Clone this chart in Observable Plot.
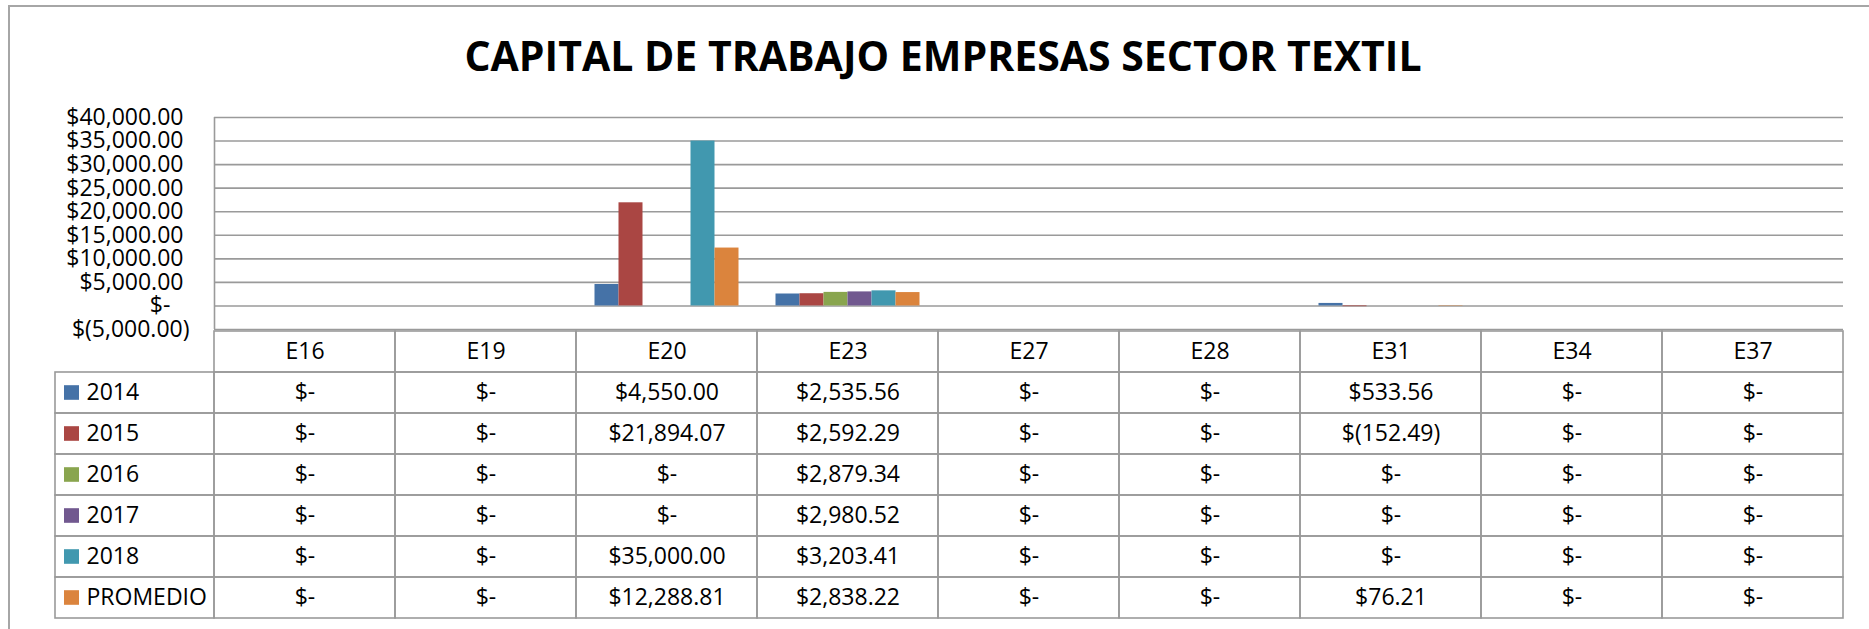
<!DOCTYPE html>
<html>
<head>
<meta charset="utf-8">
<script src="https://cdn.jsdelivr.net/npm/d3@7"></script>
<script src="https://cdn.jsdelivr.net/npm/@observablehq/plot@0.6"></script>
<style>
  html, body { margin: 0; padding: 0; background: #fff; overflow: hidden; }
  #wrap { position: relative; width: 1869px; height: 629px; }
  #frame { position: absolute; left: 8px; top: 5px; width: 1880px; height: 640px; border-left: 2px solid #a6a6a6; border-top: 2px solid #a6a6a6; }
  #title { position: absolute; left: 17px; top: 35px; width: 1852px; text-align: center;
           font-family: "Open Sans", sans-serif; font-weight: 700; font-size: 41px; line-height: 41px; color: #000; z-index: 5; }
  .layer { position: absolute; left: 0; top: 0; }
</style>
</head>
<body>
<div id="wrap">
  <div id="frame"></div>
  <div id="title">CAPITAL DE TRABAJO EMPRESAS SECTOR TEXTIL</div>
  <div id="bars" class="layer"></div>
  <div id="table" class="layer"></div>
</div>
<script>
// ---- data ----
const categories = ["E16", "E19", "E20", "E23", "E27", "E28", "E31", "E34", "E37"];
const seriesNames = ["2014", "2015", "2016", "2017", "2018", "PROMEDIO"];
const v2014 = [0, 0, 4550.00, 2535.56, 0, 0, 533.56, 0, 0];
const v2015 = [0, 0, 21894.07, 2592.29, 0, 0, -152.49, 0, 0];
const v2016 = [0, 0, 0, 2879.34, 0, 0, 0, 0, 0];
const v2017 = [0, 0, 0, 2980.52, 0, 0, 0, 0, 0];
const v2018 = [0, 0, 35000.00, 3203.41, 0, 0, 0, 0, 0];
const vPromedio = [0, 0, 12288.81, 2838.22, 0, 0, 76.21, 0, 0];
const yTicks = [-5000, 0, 5000, 10000, 15000, 20000, 25000, 30000, 35000, 40000];
const colors = ["#4572A7", "#AA4643", "#89A54E", "#71588F", "#4198AF", "#DB843D"];

const seriesValues = [v2014, v2015, v2016, v2017, v2018, vPromedio];
const rows = [];
seriesNames.forEach((s, si) => {
  categories.forEach((c, ci) => {
    rows.push({series: s, si, category: c, ci, value: seriesValues[si][ci]});
  });
});

// accounting-style formats
const num = d3.format(",.2f");
const FIG = "\u2007", PUN = "\u2008";
const fmtCell = v => v === 0 ? "$-" : v < 0 ? "$(" + num(-v) + ")" : "$" + num(v);
const fmtAxis = v => v === 0 ? "$-" + FIG + PUN : v < 0 ? "$(" + num(-v) + ")" : "$" + num(v) + PUN;

// layout constants (pixel geometry of the frame)
const W = 1869, H = 629;
const BAR = 24 / 181;                 // bar width as a fraction of a category
const GAP = (1 - seriesNames.length * BAR) / 2;
const LEG = 159 / 181;                // legend column width in category units
const gridColor = "#9a9a9a";
const font = {fontFamily: "'Open Sans', sans-serif", fontSize: "23px", background: "none", color: "#000"};

// ---- bar chart ----
const bars = Plot.plot({
  width: W, height: H,
  marginTop: 117, marginBottom: H - 329, marginLeft: 214, marginRight: W - 1843,
  style: font,
  x: {type: "linear", domain: [0, categories.length], axis: null},
  y: {type: "linear", domain: [-5000, 40000], axis: null, label: null},
  color: {domain: seriesNames, range: colors},
  marks: [
    Plot.ruleY(yTicks, {stroke: gridColor, strokeWidth: 1.6}),
    Plot.ruleX([0], {stroke: gridColor, strokeWidth: 1.6}),
    Plot.rect(rows, {
      x1: d => d.ci + GAP + d.si * BAR,
      x2: d => d.ci + GAP + (d.si + 1) * BAR,
      y1: 0, y2: "value", fill: "series"
    }),
    Plot.axisY({ticks: yTicks, tickFormat: fmtAxis, tickSize: 0, tickPadding: 25, fontSize: 23, label: null})
  ]
});
document.getElementById("bars").appendChild(bars);

// ---- data table ----
const HDR = " ";
const tableRows = [HDR, ...seriesNames];
const table = Plot.plot({
  width: W, height: H,
  marginTop: 329, marginBottom: H - 619, marginLeft: 55, marginRight: W - 1843,
  style: font,
  x: {type: "linear", domain: [-LEG, categories.length], axis: null},
  y: {type: "band", domain: tableRows, padding: 0, axis: null},
  color: {domain: seriesNames, range: colors},
  marks: [
    // header cells
    Plot.barX(categories, {x1: (d, i) => i, x2: (d, i) => i + 1, y: () => HDR, fill: "none", stroke: gridColor, strokeWidth: 1.6}),
    // body cells
    Plot.barX(rows, {x1: "ci", x2: d => d.ci + 1, y: "series", fill: "none", stroke: gridColor, strokeWidth: 1.6}),
    // legend cells
    Plot.barX(seriesNames, {x1: -LEG, x2: 0, y: d => d, fill: "none", stroke: gridColor, strokeWidth: 1.6}),
    // legend swatches
    Plot.barX(seriesNames, {x1: -LEG + 9 / 181, x2: -LEG + 24 / 181, y: d => d, fill: d => d, insetTop: 13.2, insetBottom: 13.2}),
    Plot.text(seriesNames, {x: -LEG + 31 / 181, y: d => d, text: d => d, textAnchor: "start", fontSize: 23}),
    // header labels
    Plot.text(categories, {x: (d, i) => i + 0.5, y: () => HDR, text: d => d, fontSize: 23}),
    // cell values
    Plot.text(rows, {x: d => d.ci + 0.5, y: "series", text: d => fmtCell(d.value), fontSize: 23})
  ]
});
document.getElementById("table").appendChild(table);
</script>
</body>
</html>
